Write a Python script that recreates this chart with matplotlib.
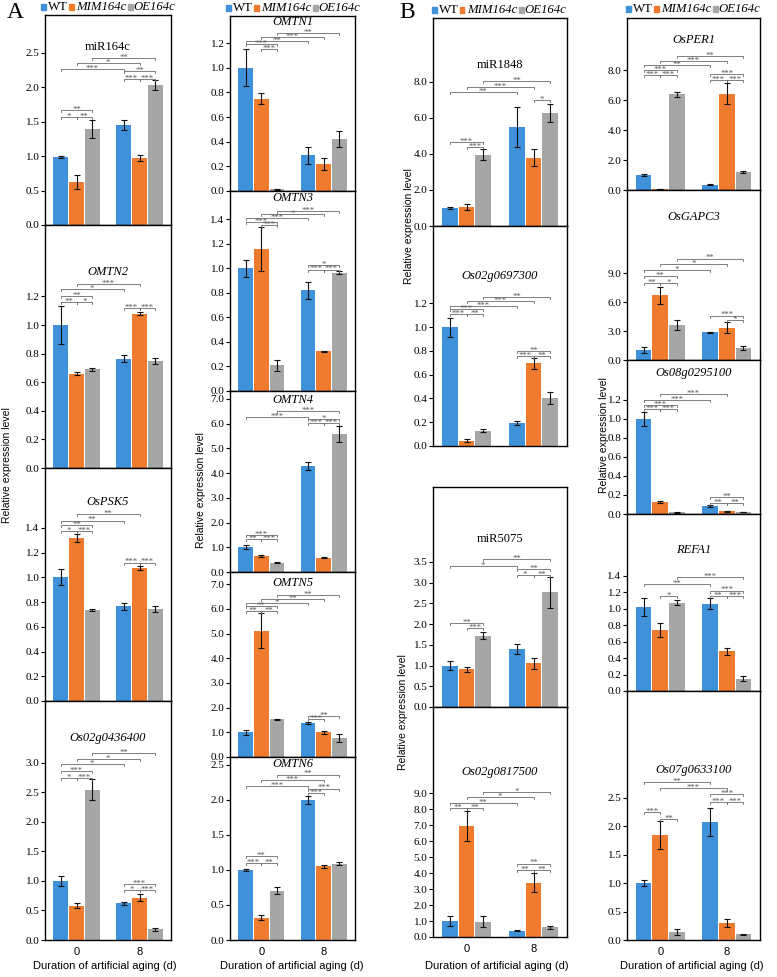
import numpy as np
import matplotlib
matplotlib.use('Agg')
import matplotlib.pyplot as plt
from matplotlib.patches import Rectangle

SERIF = ['Liberation Serif', 'DejaVu Serif']
SANS = ['Liberation Sans', 'DejaVu Sans']

genotypes = ['WT', 'MIM164c', 'OE164c']
days = ['0', '8']

# ---------------- data (order: WT0, MIM0, OE0, WT8, MIM8, OE8) ----------------
miR164c_mean = [0.99, 0.62, 1.40, 1.45, 0.97, 2.03]
miR164c_err = [0.01, 0.10, 0.13, 0.07, 0.04, 0.07]
miR164c_sig = [(0, 1, 1.57, '*'), (1, 2, 1.57, '**'), (0, 2, 1.67, '**'), (3, 4, 2.12, '***'),
               (4, 5, 2.12, '***'), (3, 5, 2.23, '**'), (0, 3, 2.27, '***'), (1, 4, 2.35, '*'),
               (2, 5, 2.42, '**')]

OMTN2_mean = [1.00, 0.66, 0.69, 0.765, 1.08, 0.75]
OMTN2_err = [0.135, 0.012, 0.008, 0.025, 0.012, 0.022]
OMTN2_sig = [(0, 1, 1.16, '**'), (1, 2, 1.16, '*'), (0, 2, 1.20, '**'), (0, 3, 1.25, '*'),
             (1, 4, 1.29, '***'), (3, 4, 1.12, '***'), (4, 5, 1.12, '***')]

OsPSK5_mean = [1.00, 1.32, 0.74, 0.765, 1.075, 0.745]
OsPSK5_err = [0.065, 0.035, 0.008, 0.025, 0.018, 0.025]
OsPSK5_sig = [(0, 1, 1.375, '*'), (1, 2, 1.375, '***'), (0, 2, 1.42, '**'), (0, 3, 1.46, '**'),
              (1, 4, 1.51, '**'), (3, 4, 1.12, '***'), (4, 5, 1.12, '***')]

Os02g0436400_mean = [1.00, 0.58, 2.55, 0.62, 0.72, 0.18]
Os02g0436400_err = [0.09, 0.04, 0.17, 0.03, 0.06, 0.02]
Os02g0436400_sig = [(0, 1, 2.75, '*'), (1, 2, 2.75, '***'), (0, 2, 2.86, '***'), (0, 3, 2.98, '*'),
                    (1, 4, 3.07, '*'), (2, 5, 3.17, '**'), (3, 4, 0.84, '*'), (4, 5, 0.84, '***'),
                    (3, 5, 0.95, '***')]

OMTN1_mean = [1.00, 0.75, 0.015, 0.29, 0.22, 0.425]
OMTN1_err = [0.15, 0.045, 0.005, 0.07, 0.05, 0.065]
OMTN1_sig = [(1, 2, 1.15, '***'), (0, 2, 1.19, '***'), (0, 3, 1.22, '**'), (1, 4, 1.25, '***'),
             (2, 5, 1.28, '**')]

OMTN3_mean = [1.00, 1.16, 0.21, 0.82, 0.325, 0.965]
OMTN3_err = [0.07, 0.18, 0.045, 0.07, 0.004, 0.012]
OMTN3_sig = [(1, 2, 1.35, '***'), (0, 2, 1.38, '***'), (0, 3, 1.41, '***'), (1, 4, 1.44, '*'),
             (2, 5, 1.47, '***'), (3, 4, 0.99, '***'), (4, 5, 0.99, '***'), (3, 5, 1.03, '*')]

OMTN4_mean = [1.00, 0.64, 0.37, 4.28, 0.57, 5.58]
OMTN4_err = [0.08, 0.05, 0.02, 0.16, 0.02, 0.32]
OMTN4_sig = [(0, 1, 1.34, '**'), (1, 2, 1.34, '***'), (0, 2, 1.50, '***'), (0, 3, 6.27, '***'),
             (2, 5, 6.5, '***'), (3, 4, 6.03, '***'), (4, 5, 6.03, '***'), (3, 5, 6.2, '*')]

OMTN5_mean = [1.00, 5.12, 1.53, 1.37, 1.00, 0.77]
OMTN5_err = [0.10, 0.70, 0.03, 0.03, 0.05, 0.15]
OMTN5_sig = [(0, 1, 5.9, '**'), (1, 2, 5.9, '**'), (0, 2, 6.12, '**'), (0, 3, 6.25, '*'),
             (1, 4, 6.4, '**'), (2, 5, 6.55, '**'), (3, 4, 1.54, '***'), (3, 5, 1.66, '**')]

OMTN6_mean = [1.00, 0.32, 0.70, 2.00, 1.05, 1.09]
OMTN6_err = [0.01, 0.04, 0.05, 0.06, 0.02, 0.02]
OMTN6_sig = [(0, 1, 1.1, '***'), (1, 2, 1.1, '**'), (0, 2, 1.2, '**'), (0, 3, 2.2, '***'),
             (1, 4, 2.28, '***'), (2, 5, 2.36, '**'), (3, 4, 2.1, '***'), (3, 5, 2.16, '***')]

miR1848_mean = [1.00, 1.05, 3.95, 5.50, 3.80, 6.30]
miR1848_err = [0.07, 0.15, 0.30, 1.10, 0.45, 0.50]
miR1848_sig = [(1, 2, 4.4, '***'), (0, 2, 4.67, '***'), (4, 5, 7.0, '*'), (0, 3, 7.45, '**'),
               (1, 4, 7.7, '***'), (2, 5, 8.05, '**')]

Os02g0697300_mean = [1.00, 0.045, 0.13, 0.195, 0.695, 0.40]
Os02g0697300_err = [0.08, 0.01, 0.01, 0.015, 0.045, 0.05]
Os02g0697300_sig = [(0, 1, 1.11, '***'), (1, 2, 1.11, '**'), (0, 2, 1.15, '***'), (0, 3, 1.18, '***'),
                    (1, 4, 1.22, '***'), (2, 5, 1.25, '**'), (3, 4, 0.755, '***'), (4, 5, 0.755, '**'),
                    (3, 5, 0.80, '**')]

miR5075_mean = [1.00, 0.91, 1.72, 1.39, 1.05, 2.77]
miR5075_err = [0.10, 0.06, 0.08, 0.12, 0.13, 0.37]
miR5075_sig = [(0, 2, 2.03, '**'), (1, 2, 1.9, '***'), (3, 4, 3.19, '*'), (4, 5, 3.19, '**'),
               (3, 5, 3.33, '**'), (0, 3, 3.4, '*'), (2, 5, 3.57, '**')]

Os02g0817500_mean = [1.00, 6.95, 0.95, 0.40, 3.40, 0.60]
Os02g0817500_err = [0.30, 0.95, 0.35, 0.05, 0.60, 0.10]
Os02g0817500_sig = [(0, 1, 8.1, '**'), (1, 2, 8.1, '**'), (0, 3, 8.4, '**'), (1, 4, 8.75, '*'),
                    (2, 5, 9.1, '*'), (3, 4, 4.2, '**'), (4, 5, 4.2, '**'), (3, 5, 4.6, '**')]

OsPER1_mean = [1.00, 0.08, 6.40, 0.35, 6.45, 1.20]
OsPER1_err = [0.05, 0.01, 0.15, 0.03, 0.70, 0.05]
OsPER1_sig = [(0, 1, 7.7, '***'), (1, 2, 7.7, '***'), (0, 2, 8.05, '***'), (0, 3, 8.35, '**'),
              (1, 4, 8.65, '***'), (2, 5, 8.95, '**'), (3, 4, 7.35, '***'), (4, 5, 7.35, '***'),
              (3, 5, 7.75, '***')]

OsGAPC3_mean = [1.00, 6.70, 3.65, 2.85, 3.35, 1.25]
OsGAPC3_err = [0.30, 0.90, 0.50, 0.10, 0.60, 0.25]
OsGAPC3_sig = [(0, 1, 8.0, '**'), (1, 2, 8.0, '*'), (0, 2, 8.7, '**'), (0, 3, 9.3, '*'),
               (1, 4, 9.9, '*'), (2, 5, 10.5, '**'), (4, 5, 4.1, '*'), (3, 5, 4.6, '***')]

Os08g0295100_mean = [1.00, 0.13, 0.02, 0.08, 0.03, 0.02]
Os08g0295100_err = [0.07, 0.01, 0.005, 0.01, 0.004, 0.004]
Os08g0295100_sig = [(0, 1, 1.1, '***'), (1, 2, 1.1, '***'), (0, 2, 1.15, '***'), (0, 3, 1.2, '***'),
                    (1, 4, 1.26, '***'), (3, 4, 0.12, '**'), (4, 5, 0.12, '**'), (3, 5, 0.18, '**')]

REFA1_mean = [1.02, 0.74, 1.07, 1.06, 0.48, 0.15]
REFA1_err = [0.11, 0.09, 0.03, 0.07, 0.04, 0.03]
REFA1_sig = [(1, 2, 1.15, '*'), (0, 3, 1.30, '**'), (2, 5, 1.38, '***'), (3, 5, 1.22, '***'),
             (3, 4, 1.15, '**'), (4, 5, 1.15, '***')]

Os07g0633100_mean = [1.00, 1.85, 0.14, 2.08, 0.30, 0.10]
Os07g0633100_err = [0.05, 0.25, 0.06, 0.25, 0.07, 0.01]
Os07g0633100_sig = [(0, 1, 2.25, '***'), (1, 2, 2.13, '**'), (3, 4, 2.42, '***'), (4, 5, 2.42, '***'),
                    (3, 5, 2.56, '***'), (1, 4, 2.67, '***'), (0, 3, 2.78, '**')]

# ---------------- drawing ----------------
W, H = 777, 977
fig = plt.figure(figsize=(W / 100, H / 100), dpi=100)
COLORS = ['#3f92da', '#ee7b2e', '#a6a6a6']


def fbox(x0, x1, y0, y1):
    return [x0 / W, 1 - y1 / H, (x1 - x0) / W, (y1 - y0) / H]


def bar_x(i):
    g, k = divmod(i, 3)
    return g + (k - 1) * 0.25


def panel(x0, x1, y0, y1, mean, err, sig, title, italic, ymax, step, tick_top, title_y, bottom=False):
    ax = fig.add_axes(fbox(x0, x1, y0, y1))
    xs = [bar_x(i) for i in range(len(mean))]
    ax.bar(xs, mean, width=0.235, color=COLORS * 2, yerr=err, zorder=2,
           error_kw=dict(ecolor='#111111', elinewidth=0.8, capsize=2, capthick=0.8))
    ax.set_xlim(-0.5, 1.5)
    ax.set_ylim(0, ymax)
    ticks = np.arange(0, tick_top + 1e-9, step)
    ax.set_yticks(ticks)
    ax.set_yticklabels([f'{t:.1f}' for t in ticks], family=SERIF, fontsize=8)
    ax.tick_params(axis='y', direction='out', length=3, width=0.8, pad=1)
    if bottom:
        ax.set_xticks([0, 1])
        ax.set_xticklabels(days, family=SANS, fontsize=8)
        ax.tick_params(axis='x', length=0, pad=5)
    else:
        ax.set_xticks([])
    for s in ax.spines.values():
        s.set_linewidth(1.0)
        s.set_color('black')
    dy = 2.0 * ymax / (y1 - y0)
    for i, j, y, lab in sig:
        xi, xj = bar_x(i), bar_x(j)
        ax.plot([xi, xi, xj, xj], [y - dy, y, y, y - dy], color='#6a6a6a', lw=0.6, zorder=3)
        ax.annotate(lab, ((xi + xj) / 2, y), xytext=(0, -1.3), textcoords='offset points',
                    ha='center', va='baseline', fontsize=6.2, color='#555555', family=SERIF)
    fig.text(((x0 + x1) / 2) / W, 1 - title_y / H, title, ha='center', va='center', fontsize=9,
             family=SERIF, style='italic' if italic else 'normal')
    return ax


# column 1
c1 = (45, 171)
panel(*c1, 15, 225, miR164c_mean, miR164c_err, miR164c_sig, 'miR164c', False, 3.05, 0.5, 2.5, 47)
panel(*c1, 225, 468, OMTN2_mean, OMTN2_err, OMTN2_sig, 'OMTN2', True, 1.70, 0.2, 1.2, 272)
panel(*c1, 468, 701, OsPSK5_mean, OsPSK5_err, OsPSK5_sig, 'OsPSK5', True, 1.885, 0.2, 1.4, 502)
panel(*c1, 701, 940, Os02g0436400_mean, Os02g0436400_err, Os02g0436400_sig, 'Os02g0436400', True,
      4.05, 0.5, 3.0, 738, bottom=True)

# column 2
c2 = (230, 355)
panel(*c2, 16, 191, OMTN1_mean, OMTN1_err, OMTN1_sig, 'OMTN1', True, 1.42, 0.2, 1.2, 22)
panel(*c2, 191, 391, OMTN3_mean, OMTN3_err, OMTN3_sig, 'OMTN3', True, 1.63, 0.2, 1.4, 198)
panel(*c2, 391, 572, OMTN4_mean, OMTN4_err, OMTN4_sig, 'OMTN4', True, 7.32, 1.0, 7.0, 400)
panel(*c2, 572, 757, OMTN5_mean, OMTN5_err, OMTN5_sig, 'OMTN5', True, 7.5, 1.0, 7.0, 583)
panel(*c2, 757, 940, OMTN6_mean, OMTN6_err, OMTN6_sig, 'OMTN6', True, 2.61, 0.5, 2.5, 764, bottom=True)

# column 3
c3 = (433, 567)
panel(*c3, 18, 226, miR1848_mean, miR1848_err, miR1848_sig, 'miR1848', False, 11.55, 2.0, 8.0, 65)
panel(*c3, 226, 446, Os02g0697300_mean, Os02g0697300_err, Os02g0697300_sig, 'Os02g0697300', True,
      1.85, 0.2, 1.2, 276)
panel(*c3, 487, 707, miR5075_mean, miR5075_err, miR5075_sig, 'miR5075', False, 5.31, 0.5, 3.5, 539)
panel(*c3, 707, 937, Os02g0817500_mean, Os02g0817500_err, Os02g0817500_sig, 'Os02g0817500', True,
      14.4, 1.0, 9.0, 772, bottom=True)

# column 4
c4 = (627, 760)
panel(*c4, 18, 190, OsPER1_mean, OsPER1_err, OsPER1_sig, 'OsPER1', True, 11.5, 2.0, 8.0, 40)
panel(*c4, 190, 360, OsGAPC3_mean, OsGAPC3_err, OsGAPC3_sig, 'OsGAPC3', True, 17.6, 3.0, 9.0, 217)
panel(*c4, 360, 514, Os08g0295100_mean, Os08g0295100_err, Os08g0295100_sig, 'Os08g0295100', True,
      1.62, 0.2, 1.2, 373)
panel(*c4, 514, 691, REFA1_mean, REFA1_err, REFA1_sig, 'REFA1', True, 2.15, 0.2, 1.4, 550)
panel(*c4, 691, 940, Os07g0633100_mean, Os07g0633100_err, Os07g0633100_sig, 'Os07g0633100', True,
      4.38, 0.5, 2.5, 770, bottom=True)


# legends
def legend(x0, y, shift=0):
    sq = [x0 - 2 + shift, x0 + 26 + shift, x0 + 85 + shift]
    tx = [x0 + 3 + shift, x0 + 31 + shift, x0 + 88 + shift]
    for k in range(3):
        fig.patches.append(Rectangle(((sq[k] - 2.5) / W, 1 - (y + 2.5) / H), 5 / W, 5 / H,
                                     transform=fig.transFigure, color=COLORS[k]))
        fig.text(tx[k] / W, 1 - y / H, genotypes[k], ha='left', va='center', fontsize=9.2,
                 family=SERIF, style='normal' if k == 0 else 'italic')


legend(45, 7)
legend(230, 8)
legend(433, 10, shift=3)
legend(627, 9, shift=3)

fig.text(15 / W, 1 - 12 / H, 'A', ha='center', va='center', fontsize=17, family=SERIF)
fig.text(407 / W, 1 - 12 / H, 'B', ha='center', va='center', fontsize=17, family=SERIF)

for x, y in [(7, 465), (201, 490), (409, 226), (403, 712), (604, 435)]:
    fig.text(x / W, 1 - y / H, 'Relative expression level', rotation=90, ha='center', va='center',
             fontsize=7.5, family=SANS)

for x in [105, 292, 497, 692]:
    fig.text(x / W, 1 - 966 / H, 'Duration of artificial aging (d)', ha='center', va='center',
             fontsize=8, family=SANS)

fig.savefig('out.png', dpi=100)
